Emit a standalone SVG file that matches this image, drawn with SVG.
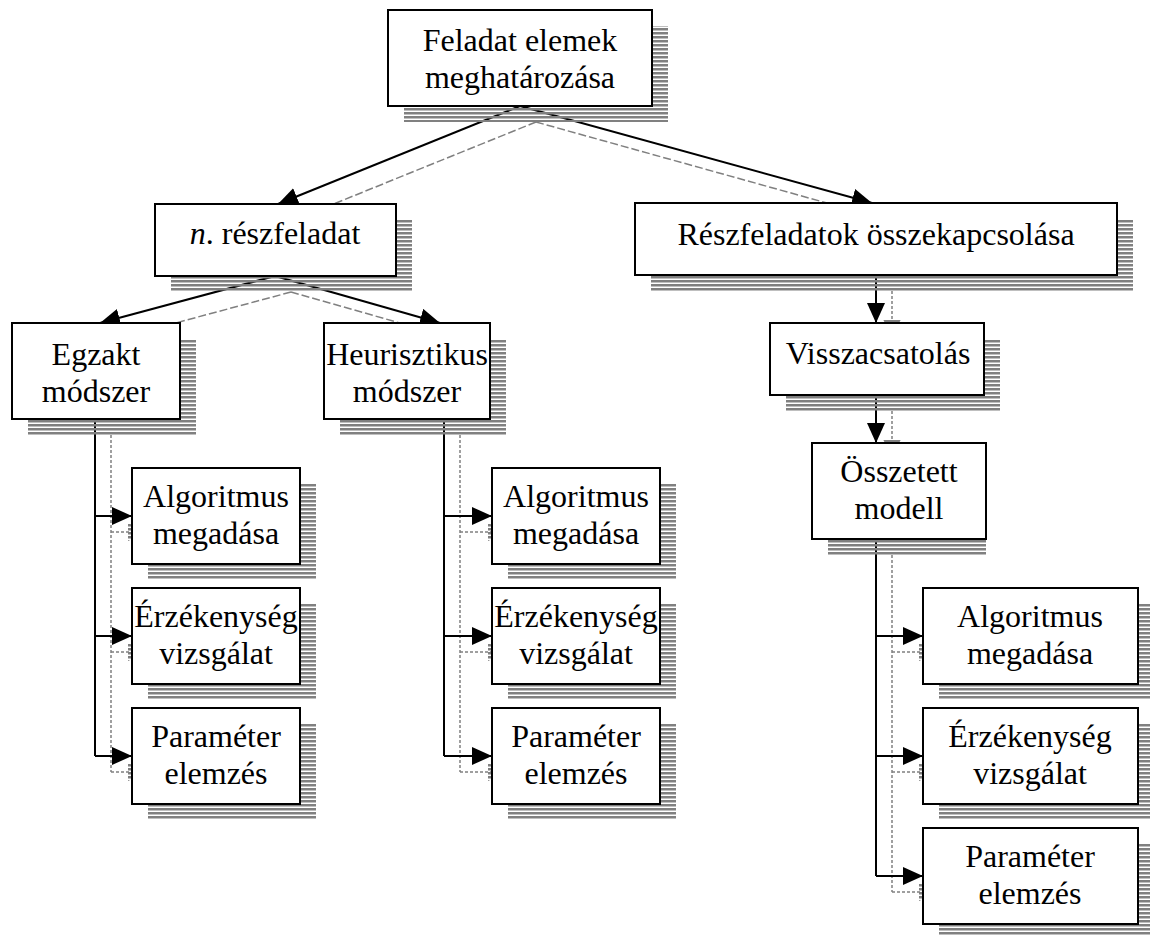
<svg xmlns="http://www.w3.org/2000/svg" width="1150" height="935" viewBox="0 0 1150 935">
  <style>
    .box { fill: #ffffff; stroke: #000000; stroke-width: 2; }
    .shadow { fill: url(#stripes); }
    .label { font-family: "Liberation Serif", "Times New Roman", serif; font-size: 32px; fill: #000000; text-anchor: middle; }
    .wire { stroke: #000000; stroke-width: 2; fill: none; }
    .wire-shadow { stroke: #808080; stroke-width: 1.5; fill: none; stroke-dasharray: 3 2; }
    .diag-shadow { stroke: #808080; stroke-width: 1.5; fill: none; stroke-dasharray: 8 3; }
  </style>
  <defs>
    <!-- horizontal grey hatching used for drop shadows -->
    <pattern id="stripes" patternUnits="userSpaceOnUse" width="4" height="4">
      <rect x="0" y="0" width="4" height="2.5" fill="#808080"/>
    </pattern>
    <marker id="arrow" markerUnits="userSpaceOnUse" markerWidth="20" markerHeight="18" refX="20" refY="9" orient="auto">
      <path d="M0,0 L20,9 L0,18 z" fill="#000000"/>
    </marker>
  </defs>

  <!-- connectors -->
  <g id="connectors">
    <!-- shadow traces -->
    <g id="connector-shadows">
      <line class="diag-shadow" x1="536" y1="122" x2="294" y2="220"/>
      <line class="diag-shadow" x1="536" y1="122" x2="888" y2="220"/>
      <line class="diag-shadow" x1="291" y1="292" x2="116" y2="339"/>
      <line class="diag-shadow" x1="291" y1="292" x2="456" y2="339"/>
      <line class="wire-shadow" x1="892" y1="291" x2="892" y2="339"/>
      <line class="wire-shadow" x1="892" y1="411" x2="892" y2="459"/>
      <!-- Egzakt branch -->
      <line class="wire-shadow" x1="111" y1="435" x2="111" y2="772"/>
      <line class="wire-shadow" x1="111" y1="532" x2="132" y2="532"/>
      <line class="wire-shadow" x1="111" y1="652" x2="132" y2="652"/>
      <line class="wire-shadow" x1="111" y1="772" x2="132" y2="772"/>
      <!-- Heurisztikus branch -->
      <line class="wire-shadow" x1="460" y1="435" x2="460" y2="772"/>
      <line class="wire-shadow" x1="460" y1="532" x2="492" y2="532"/>
      <line class="wire-shadow" x1="460" y1="652" x2="492" y2="652"/>
      <line class="wire-shadow" x1="460" y1="772" x2="492" y2="772"/>
      <!-- Összetett branch -->
      <line class="wire-shadow" x1="892" y1="555" x2="892" y2="892"/>
      <line class="wire-shadow" x1="892" y1="652" x2="923" y2="652"/>
      <line class="wire-shadow" x1="892" y1="772" x2="923" y2="772"/>
      <line class="wire-shadow" x1="892" y1="892" x2="923" y2="892"/>
    </g>
    <!-- main connectors -->
    <line class="wire" x1="520" y1="106" x2="278" y2="204" marker-end="url(#arrow)"/>
    <line class="wire" x1="520" y1="106" x2="872" y2="203" marker-end="url(#arrow)"/>
    <line class="wire" x1="275" y1="276" x2="100" y2="323" marker-end="url(#arrow)"/>
    <line class="wire" x1="275" y1="276" x2="440" y2="323" marker-end="url(#arrow)"/>
    <line class="wire" x1="876" y1="275" x2="876" y2="323" marker-end="url(#arrow)"/>
    <line class="wire" x1="876" y1="395" x2="876" y2="443" marker-end="url(#arrow)"/>

    <polyline class="wire" points="95,419 95,756"/>
    <line class="wire" x1="95" y1="516" x2="132" y2="516" marker-end="url(#arrow)"/>
    <line class="wire" x1="95" y1="636" x2="132" y2="636" marker-end="url(#arrow)"/>
    <line class="wire" x1="95" y1="756" x2="132" y2="756" marker-end="url(#arrow)"/>

    <polyline class="wire" points="444,419 444,756"/>
    <line class="wire" x1="444" y1="516" x2="492" y2="516" marker-end="url(#arrow)"/>
    <line class="wire" x1="444" y1="636" x2="492" y2="636" marker-end="url(#arrow)"/>
    <line class="wire" x1="444" y1="756" x2="492" y2="756" marker-end="url(#arrow)"/>

    <polyline class="wire" points="876,539 876,876"/>
    <line class="wire" x1="876" y1="636" x2="923" y2="636" marker-end="url(#arrow)"/>
    <line class="wire" x1="876" y1="756" x2="923" y2="756" marker-end="url(#arrow)"/>
    <line class="wire" x1="876" y1="876" x2="923" y2="876" marker-end="url(#arrow)"/>

    <!-- hatched shadows of arrowheads -->
    <g id="arrowhead-shadows" class="shadow">
      <polygon points="128,523 148,532 128,541"/>
      <polygon points="128,643 148,652 128,661"/>
      <polygon points="128,763 148,772 128,781"/>
      <polygon points="488,523 508,532 488,541"/>
      <polygon points="488,643 508,652 488,661"/>
      <polygon points="488,763 508,772 488,781"/>
      <polygon points="919,643 939,652 919,661"/>
      <polygon points="919,763 939,772 919,781"/>
      <polygon points="919,883 939,892 919,901"/>
      <polygon points="883,319 901,319 892,339"/>
      <polygon points="883,439 901,439 892,459"/>
    </g>
  </g>

  <!-- nodes -->
  <g id="node-feladat">
    <rect class="shadow" x="404" y="26" width="264" height="96"/>
    <rect class="box" x="388" y="10" width="264" height="96"/>
    <text class="label" x="520" y="51">Feladat elemek</text>
    <text class="label" x="520" y="88">meghatározása</text>
  </g>

  <g id="node-reszfeladat">
    <rect class="shadow" x="171" y="220" width="241" height="72"/>
    <rect class="box" x="155" y="204" width="241" height="72"/>
    <text class="label" x="275" y="244"><tspan font-style="italic">n</tspan>. részfeladat</text>
  </g>

  <g id="node-osszekapcsolas">
    <rect class="shadow" x="651" y="219" width="482" height="72"/>
    <rect class="box" x="635" y="203" width="482" height="72"/>
    <text class="label" x="876" y="245">Részfeladatok összekapcsolása</text>
  </g>

  <g id="node-egzakt">
    <rect class="shadow" x="28" y="339" width="168" height="96"/>
    <rect class="box" x="12" y="323" width="168" height="96"/>
    <text class="label" x="96" y="365">Egzakt</text>
    <text class="label" x="96" y="402">módszer</text>
  </g>

  <g id="node-heurisztikus">
    <rect class="shadow" x="340" y="339" width="166" height="96"/>
    <rect class="box" x="324" y="323" width="166" height="96"/>
    <text class="label" x="407" y="365">Heurisztikus</text>
    <text class="label" x="407" y="402">módszer</text>
  </g>

  <g id="node-visszacsatolas">
    <rect class="shadow" x="786" y="339" width="214" height="72"/>
    <rect class="box" x="770" y="323" width="214" height="72"/>
    <text class="label" x="878" y="364">Visszacsatolás</text>
  </g>

  <g id="node-osszetett">
    <rect class="shadow" x="828" y="459" width="158" height="96"/>
    <rect class="box" x="812" y="443" width="174" height="96"/>
    <text class="label" x="899" y="482">Összetett</text>
    <text class="label" x="899" y="519">modell</text>
  </g>

  <!-- Egzakt módszer leaves -->
  <g id="node-egzakt-algoritmus">
    <rect class="shadow" x="148" y="484" width="168" height="96"/>
    <rect class="box" x="132" y="468" width="168" height="96"/>
    <text class="label" x="216" y="507">Algoritmus</text>
    <text class="label" x="216" y="544">megadása</text>
  </g>
  <g id="node-egzakt-erzekenyseg">
    <rect class="shadow" x="148" y="604" width="168" height="96"/>
    <rect class="box" x="132" y="588" width="168" height="96"/>
    <text class="label" x="216" y="627">Érzékenység</text>
    <text class="label" x="216" y="664">vizsgálat</text>
  </g>
  <g id="node-egzakt-parameter">
    <rect class="shadow" x="148" y="724" width="168" height="96"/>
    <rect class="box" x="132" y="708" width="168" height="96"/>
    <text class="label" x="216" y="747">Paraméter</text>
    <text class="label" x="216" y="784">elemzés</text>
  </g>

  <!-- Heurisztikus módszer leaves -->
  <g id="node-heur-algoritmus">
    <rect class="shadow" x="508" y="484" width="168" height="96"/>
    <rect class="box" x="492" y="468" width="168" height="96"/>
    <text class="label" x="576" y="507">Algoritmus</text>
    <text class="label" x="576" y="544">megadása</text>
  </g>
  <g id="node-heur-erzekenyseg">
    <rect class="shadow" x="508" y="604" width="168" height="96"/>
    <rect class="box" x="492" y="588" width="168" height="96"/>
    <text class="label" x="576" y="627">Érzékenység</text>
    <text class="label" x="576" y="664">vizsgálat</text>
  </g>
  <g id="node-heur-parameter">
    <rect class="shadow" x="508" y="724" width="168" height="96"/>
    <rect class="box" x="492" y="708" width="168" height="96"/>
    <text class="label" x="576" y="747">Paraméter</text>
    <text class="label" x="576" y="784">elemzés</text>
  </g>

  <!-- Összetett modell leaves -->
  <g id="node-modell-algoritmus">
    <rect class="shadow" x="939" y="604" width="215" height="96"/>
    <rect class="box" x="923" y="588" width="215" height="96"/>
    <text class="label" x="1030" y="627">Algoritmus</text>
    <text class="label" x="1030" y="664">megadása</text>
  </g>
  <g id="node-modell-erzekenyseg">
    <rect class="shadow" x="939" y="724" width="215" height="96"/>
    <rect class="box" x="923" y="708" width="215" height="96"/>
    <text class="label" x="1030" y="747">Érzékenység</text>
    <text class="label" x="1030" y="784">vizsgálat</text>
  </g>
  <g id="node-modell-parameter">
    <rect class="shadow" x="939" y="844" width="215" height="96"/>
    <rect class="box" x="923" y="828" width="215" height="96"/>
    <text class="label" x="1030" y="867">Paraméter</text>
    <text class="label" x="1030" y="904">elemzés</text>
  </g>
</svg>
